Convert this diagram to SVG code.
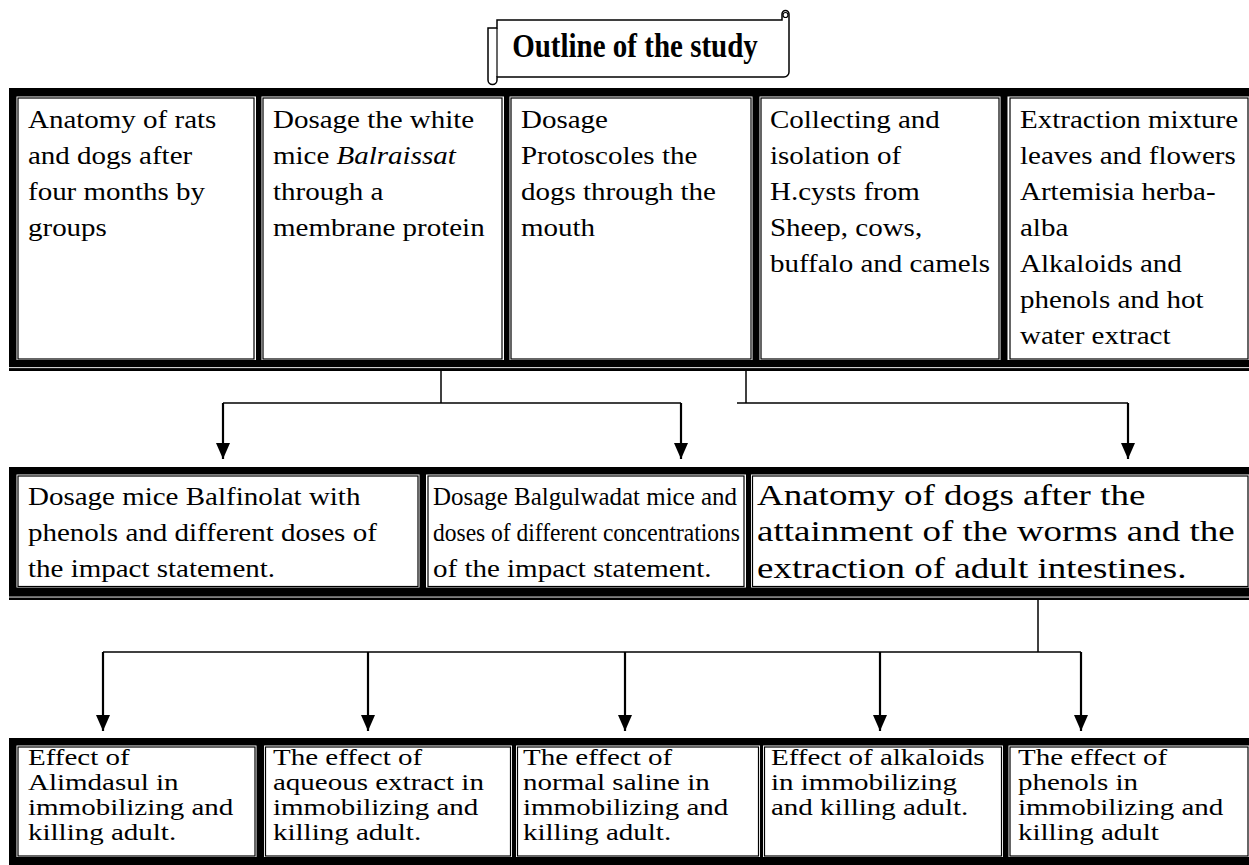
<svg xmlns="http://www.w3.org/2000/svg" width="1249" height="865" viewBox="0 0 1249 865">
<style>
.t{font-family:"Liberation Serif","Times New Roman",serif;font-size:29px;fill:#000}
.tb{font-family:"Liberation Serif","Times New Roman",serif;font-size:29px;font-weight:bold;fill:#000}
.cw{fill:#fff}
.cl{fill:none;stroke:#000;stroke-width:1.2}
.band{fill:#000}
.h{stroke:#000;stroke-width:1.5;fill:none}
.a{stroke:#000;stroke-width:2.2;fill:none;marker-end:url(#ah)}
</style>
<defs>
<marker id="ah" markerUnits="userSpaceOnUse" viewBox="0 -7 16 14" refX="16" refY="0" markerWidth="16" markerHeight="14" orient="auto">
<path d="M0,-7 L16,0 L0,7 Z" fill="#000"/>
</marker>
</defs>
<rect width="1249" height="865" fill="#fff"/>

<g id="title">
<path d="M488,28 H497 V20 H782 V14 A3.5,3.5 0 0 1 789,14 V72 A5,5 0 0 1 784,77 H497 V80 A4.5,4.5 0 0 1 488,80 Z" fill="#fff" stroke="#000" stroke-width="1.5"/>
<circle cx="785.5" cy="15" r="2.5" fill="none" stroke="#000" stroke-width="1.2"/>
<path d="M497,28 V77" fill="none" stroke="#000" stroke-width="1.2"/>
<text class="tb" x="635" y="49.6" text-anchor="middle" transform="scale(1,1.15)">Outline of the study</text>
</g>

<g id="table1">
<rect class="band" x="9" y="88" width="1240" height="283"/>
<rect x="9" y="367.2" width="1240" height="0.9" fill="#fff"/>
<g id="n1">
<rect class="cw" x="16.5" y="96.5" width="239.5" height="263.5"/>
<rect class="cl" x="18" y="98" width="236" height="261"/>
<text class="t" transform="scale(1,0.84)"><tspan x="28" y="152.38">Anatomy of rats</tspan><tspan x="28" y="195.24">and dogs after</tspan><tspan x="28" y="238.1">four months by</tspan><tspan x="28" y="280.95">groups</tspan></text>
</g>
<g id="n2">
<rect class="cw" x="261.5" y="96.5" width="242.5" height="263.5"/>
<rect class="cl" x="263" y="98" width="239" height="261"/>
<text class="t" transform="scale(1,0.84)"><tspan x="273" y="152.38">Dosage the white</tspan><tspan x="273" y="195.24">mice <tspan font-style="italic">Balraissat</tspan></tspan><tspan x="273" y="238.1">through a</tspan><tspan x="273" y="280.95">membrane protein</tspan></text>
</g>
<g id="n3">
<rect class="cw" x="509.5" y="96.5" width="243" height="263.5"/>
<rect class="cl" x="511" y="98" width="240" height="261"/>
<text class="t" transform="scale(1,0.84)"><tspan x="521" y="152.38">Dosage</tspan><tspan x="521" y="195.24">Protoscoles the</tspan><tspan x="521" y="238.1">dogs through the</tspan><tspan x="521" y="280.95">mouth</tspan></text>
</g>
<g id="n4">
<rect class="cw" x="759.5" y="96.5" width="241" height="263.5"/>
<rect class="cl" x="761" y="98" width="238" height="261"/>
<text class="t" transform="scale(1,0.84)"><tspan x="770" y="152.38">Collecting and</tspan><tspan x="770" y="195.24">isolation of</tspan><tspan x="770" y="238.1">H.cysts from</tspan><tspan x="770" y="280.95">Sheep, cows,</tspan><tspan x="770" y="323.81">buffalo and camels</tspan></text>
</g>
<g id="n5">
<rect class="cw" x="1007.5" y="96.5" width="242" height="263.5"/>
<rect class="cl" x="1010" y="98" width="238" height="261"/>
<text class="t" transform="scale(1,0.84)"><tspan x="1020" y="152.38">Extraction mixture</tspan><tspan x="1020" y="195.24">leaves and flowers</tspan><tspan x="1020" y="238.1">Artemisia herba-</tspan><tspan x="1020" y="280.95">alba</tspan><tspan x="1020" y="323.81">Alkaloids and</tspan><tspan x="1020" y="366.67">phenols and hot</tspan><tspan x="1020" y="409.52">water extract</tspan></text>
</g>
</g>

<g id="table2">
<rect class="band" x="9" y="467" width="1240" height="133"/>
<rect x="9" y="596.6" width="1240" height="0.9" fill="#fff"/>
<g id="n6">
<rect class="cw" x="16.5" y="474.5" width="403" height="113"/>
<rect class="cl" x="18" y="476" width="400" height="110.5"/>
<text class="t" transform="scale(1,0.84)"><tspan x="28" y="601.19">Dosage mice Balfinolat with</tspan><tspan x="28" y="644.05">phenols and different doses of</tspan><tspan x="28" y="686.9">the impact statement.</tspan></text>
</g>
<g id="n7">
<rect class="cw" x="426" y="474.5" width="320" height="113"/>
<rect class="cl" x="428" y="476" width="316" height="110.5"/>
<text class="t" transform="scale(1,0.84)"><tspan x="433" y="601.19" textLength="304" lengthAdjust="spacingAndGlyphs">Dosage Balgulwadat mice and</tspan><tspan x="433" y="644.05" textLength="307" lengthAdjust="spacingAndGlyphs">doses of different concentrations</tspan><tspan x="433" y="686.9">of the impact statement.</tspan></text>
</g>
<g id="n8">
<rect class="cw" x="751" y="474.5" width="498" height="113"/>
<rect class="cl" x="752.5" y="476" width="495.5" height="110.5"/>
<text class="t" style="font-size:37px" transform="scale(1,0.8)"><tspan x="757" y="631.25">Anatomy of dogs after the</tspan><tspan x="757" y="676.25">attainment of the worms and the</tspan><tspan x="757" y="722.5">extraction of adult intestines.</tspan></text>
</g>
</g>

<g id="table3">
<rect class="band" x="9" y="738" width="1240" height="127"/>
<g id="n9">
<rect class="cw" x="16.5" y="745.5" width="240" height="111.5"/>
<rect class="cl" x="18" y="747" width="237" height="109"/>
<text class="t" transform="scale(1,0.8)"><tspan x="28" y="956.25">Effect of</tspan><tspan x="28" y="987.5">Alimdasul in</tspan><tspan x="28" y="1018.75">immobilizing and</tspan><tspan x="28" y="1050">killing adult.</tspan></text>
</g>
<g id="n10">
<rect class="cw" x="264" y="745.5" width="248" height="111.5"/>
<rect class="cl" x="265.5" y="747" width="245" height="109"/>
<text class="t" transform="scale(1,0.8)"><tspan x="273" y="956.25">The effect of</tspan><tspan x="273" y="987.5">aqueous extract in</tspan><tspan x="273" y="1018.75">immobilizing and</tspan><tspan x="273" y="1050">killing adult.</tspan></text>
</g>
<g id="n11">
<rect class="cw" x="516" y="745.5" width="244" height="111.5"/>
<rect class="cl" x="517.5" y="747" width="241" height="109"/>
<text class="t" transform="scale(1,0.8)"><tspan x="523" y="956.25">The effect of</tspan><tspan x="523" y="987.5">normal saline in</tspan><tspan x="523" y="1018.75">immobilizing and</tspan><tspan x="523" y="1050">killing adult.</tspan></text>
</g>
<g id="n12">
<rect class="cw" x="763" y="745.5" width="240" height="111.5"/>
<rect class="cl" x="764.5" y="747" width="237" height="109"/>
<text class="t" transform="scale(1,0.8)"><tspan x="771" y="956.25">Effect of alkaloids</tspan><tspan x="771" y="987.5">in immobilizing</tspan><tspan x="771" y="1018.75">and killing adult.</tspan></text>
</g>
<g id="n13">
<rect class="cw" x="1008.5" y="745.5" width="241" height="111.5"/>
<rect class="cl" x="1010" y="747" width="238" height="109"/>
<text class="t" transform="scale(1,0.8)"><tspan x="1018" y="956.25">The effect of</tspan><tspan x="1018" y="987.5">phenols in</tspan><tspan x="1018" y="1018.75">immobilizing and</tspan><tspan x="1018" y="1050">killing adult</tspan></text>
</g>
</g>

<g id="connectors">
<path class="h" d="M441,371 V403"/>
<path class="h" d="M223,403 H681"/>
<path class="a" d="M223,403 V459"/>
<path class="a" d="M681,403 V459"/>
<path class="h" d="M746,371 V403"/>
<path class="h" d="M737,403 H1128"/>
<path class="a" d="M1128,403 V459"/>
<path class="h" d="M1038,600 V652"/>
<path class="h" d="M103,652 H1081"/>
<path class="a" d="M103,652 V731"/>
<path class="a" d="M368,652 V731"/>
<path class="a" d="M625,652 V731"/>
<path class="a" d="M880,652 V731"/>
<path class="a" d="M1081,652 V731"/>
</g>
</svg>
